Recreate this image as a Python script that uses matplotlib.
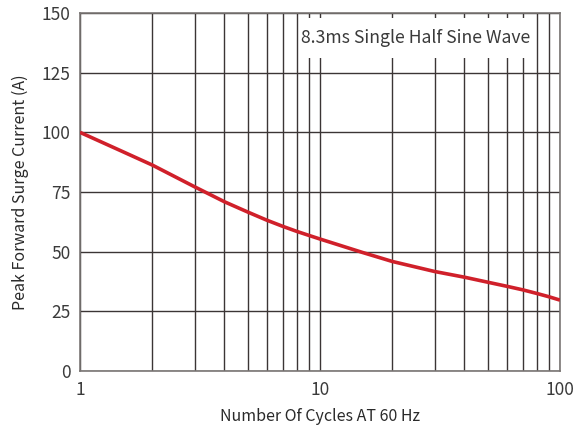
import numpy as np
import matplotlib.pyplot as plt
from matplotlib.patches import Rectangle
from matplotlib.ticker import FixedLocator, NullFormatter

plt.rcParams['font.family'] = ['Noto Sans CJK SC', 'DejaVu Sans']

# surge current curve
cycles = [1, 1.5, 2, 3, 4, 5, 6, 7, 8, 9, 10, 15, 20, 30, 40, 50, 60, 70, 80, 90, 100]
current = [100, 92.0, 86.3, 77.2, 70.9, 66.6, 63.2, 60.6, 58.5, 56.8, 55.3,
           49.7, 45.9, 41.7, 39.3, 37.2, 35.5, 34.0, 32.5, 31.1, 29.7]

y_ticks = [0, 25, 50, 75, 100, 125, 150]
x_ticks = [1, 10, 100]
x_tick_labels = ["1", "10", "100"]
x_minor = [m * d for d in (1, 10) for m in range(2, 10)]

fig = plt.figure(figsize=(5.79, 4.34), dpi=100)
ax = fig.add_axes([80 / 579, 1 - 371 / 434, 480 / 579, 358 / 434])

grid_c = "#3b3535"
ax.plot(cycles, current, color="#d0202a", lw=2.6, zorder=5,
        solid_capstyle="butt", solid_joinstyle="round")

ax.set_xscale("log")
ax.set_xlim(1, 100)
ax.set_ylim(0, 150)
ax.xaxis.set_major_locator(FixedLocator(x_ticks))
ax.set_xticklabels(x_tick_labels)
ax.xaxis.set_minor_locator(FixedLocator(x_minor))
ax.xaxis.set_minor_formatter(NullFormatter())
ax.set_yticks(y_ticks)

ax.grid(True, which="both", axis="x", color=grid_c, lw=1.0)
ax.grid(True, which="major", axis="y", color=grid_c, lw=1.0)
ax.tick_params(which="both", length=0, labelsize=12.5, labelcolor="#3a3a3a")
ax.tick_params(axis="x", pad=7)
ax.tick_params(axis="y", pad=7)
for s in ax.spines.values():
    s.set_color("#7a7674")
    s.set_linewidth(1.2)

ax.set_xlabel("Number Of Cycles AT 60 Hz", fontsize=11.5, color="#2a2a2a", labelpad=7)
ax.set_ylabel("Peak Forward Surge Current (A)", fontsize=11.5, color="#2a2a2a", labelpad=9)

# white label box that blanks the grid behind the text
ax.add_patch(Rectangle((0.458, 0.874), 0.477, 0.112, transform=ax.transAxes,
                       facecolor="white", edgecolor="none", zorder=4))
ax.text(0.70, 0.929, "8.3ms Single Half Sine Wave", transform=ax.transAxes,
        ha="center", va="center", fontsize=12.7, color="#3a3a3a", zorder=6)

fig.savefig("out.png", dpi=100)
